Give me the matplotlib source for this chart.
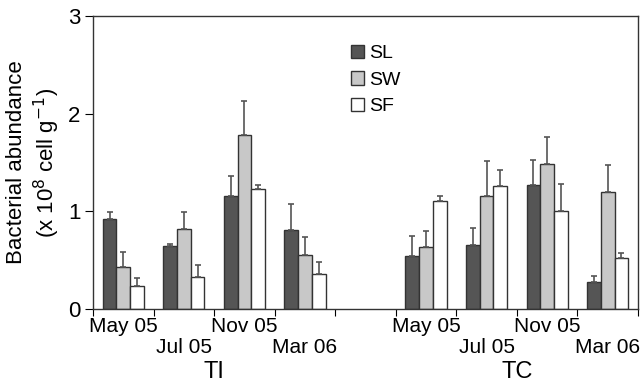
import matplotlib
matplotlib.use("Agg")
import matplotlib.pyplot as plt
import numpy as np

plt.rcParams['font.family'] = ['Liberation Sans', 'DejaVu Sans']

# Данные: средние и верхние пределы ошибок (x 10^8 cell g^-1)
months = ["May 05", "Jul 05", "Nov 05", "Mar 06"]
sites = ["TI", "TC"]
series = ["SL", "SW", "SF"]
colors = ["#555555", "#c8c8c8", "#ffffff"]

# порядок: TI May, Jul, Nov, Mar, TC May, Jul, Nov, Mar
sl = [0.92, 0.65, 1.16, 0.81, 0.54, 0.66, 1.27, 0.28]
sw = [0.43, 0.82, 1.78, 0.55, 0.63, 1.16, 1.48, 1.20]
sf = [0.24, 0.33, 1.23, 0.36, 1.11, 1.26, 1.00, 0.52]
sl_err = [0.07, 0.02, 0.20, 0.27, 0.21, 0.17, 0.26, 0.06]
sw_err = [0.15, 0.17, 0.35, 0.19, 0.17, 0.36, 0.28, 0.27]
sf_err = [0.08, 0.12, 0.04, 0.12, 0.05, 0.16, 0.28, 0.05]

fig = plt.figure(figsize=(6.44, 3.86), dpi=100)
ax = fig.add_axes([0.1444, 0.1995, 0.8463, 0.759])

# слоты 0-3 для TI, 4 пустой, 5-8 для TC
slots = np.array([0, 1, 2, 3, 5, 6, 7, 8]) + 0.5
w = 0.227
for k, (vals, errs, c, name) in enumerate(zip([sl, sw, sf], [sl_err, sw_err, sf_err], colors, series)):
    x = slots + (k - 1) * w
    ax.bar(x, vals, width=w, color=c, edgecolor="#333333", linewidth=1, label=name, zorder=2)
    ax.errorbar(x, vals, yerr=[np.zeros(len(vals)), errs], fmt="none", ecolor="#555555",
                elinewidth=1.2, capsize=2.5, capthick=1.2, zorder=3)

ax.set_xlim(0, 9)
ax.set_ylim(0, 3)
ax.set_yticks([0, 1, 2, 3])
ax.tick_params(axis="y", direction="out", length=6, labelsize=16, pad=3)
ax.set_xticks(range(10))
ax.set_xticklabels([])
ax.tick_params(axis="x", which="major", direction="out", length=5)

# подписи месяцев в шахматном порядке
lbls = []
for i in range(len(slots)):
    m = months[i % 4]
    lbls.append(m if i % 2 == 0 else "\n" + m)
ax.set_xticks(slots, minor=True)
ax.set_xticklabels(lbls, minor=True, fontsize=15, linespacing=1.1)
ax.tick_params(axis="x", which="minor", length=0, pad=6)

ax.text(2.0, -0.215, sites[0], transform=ax.get_xaxis_transform(), ha="center", va="center", fontsize=17)
ax.text(7.0, -0.215, sites[1], transform=ax.get_xaxis_transform(), ha="center", va="center", fontsize=17)

for s in ax.spines.values():
    s.set_color("#333333")
    s.set_linewidth(1)

ax.set_ylabel("Bacterial abundance\n(x 10$^{8}$ cell g$^{-1}$)", fontsize=16, labelpad=4, linespacing=1.25)

ax.legend(loc="upper left", bbox_to_anchor=(0.455, 0.935), frameon=False, fontsize=14,
          handlelength=0.7, handleheight=0.7, handletextpad=0.25, labelspacing=0.45, borderpad=0)

fig.savefig("out.png", dpi=100)
